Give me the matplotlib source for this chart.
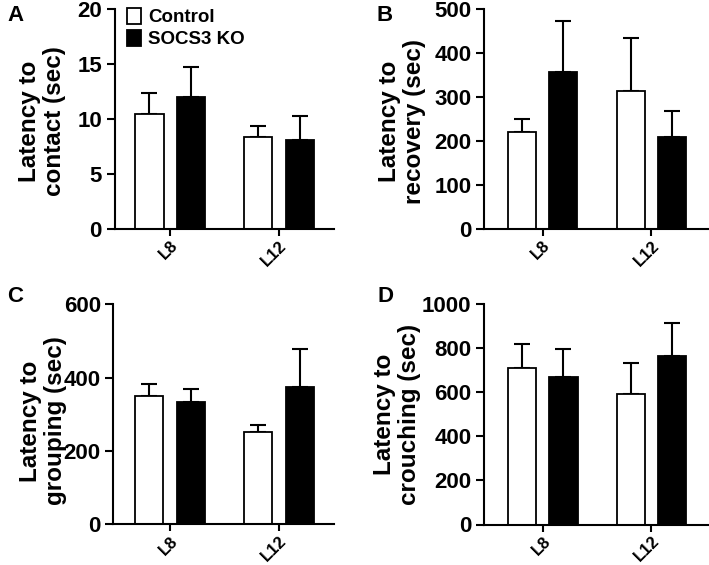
import matplotlib.pyplot as plt
from matplotlib.patches import Patch
import numpy as np

plt.rcParams['font.family'] = ['Liberation Sans', 'DejaVu Sans']
plt.rcParams['font.weight'] = 'bold'

groups = ['L8', 'L12']
series = ['Control', 'SOCS3 KO']

# panel A - contact
contact_ctrl = [10.45, 8.33]
contact_ctrl_sem = [1.95, 1.07]
contact_ko = [12.03, 8.09]
contact_ko_sem = [2.73, 2.15]

# panel B - recovery
recovery_ctrl = [221, 315]
recovery_ctrl_sem = [29, 120]
recovery_ko = [358, 210]
recovery_ko_sem = [115, 58]

# panel C - grouping
grouping_ctrl = [349, 253]
grouping_ctrl_sem = [34, 19]
grouping_ko = [334, 375]
grouping_ko_sem = [34, 102]

# panel D - crouching
crouching_ctrl = [712, 594]
crouching_ctrl_sem = [107, 140]
crouching_ko = [668, 765]
crouching_ko_sem = [130, 147]

W, H = 709, 565
fig = plt.figure(figsize=(W / 100, H / 100), dpi=100)


def px_axes(left, right, top, bottom):
    return fig.add_axes([left / W, 1 - bottom / H, (right - left) / W, (bottom - top) / H])


def draw_panel(ax, ctrl, ctrl_sem, ko, ko_sem, ymax, step, ylabel, xlim, lab_x, lab_y):
    x = np.arange(len(groups))
    off, wid = 0.19, 0.26
    for vals, sem, color, sign in [(ctrl, ctrl_sem, 'white', -1), (ko, ko_sem, 'black', 1)]:
        xs = x + sign * off
        ax.errorbar(xs, vals, yerr=[np.zeros(len(vals)), sem], fmt='none', ecolor='black',
                    elinewidth=1.5, capsize=6, capthick=1.5, zorder=1)
        ax.bar(xs, vals, width=wid, color=color, edgecolor='black', linewidth=1.3, zorder=2)
    ax.set_xlim(*xlim)
    ax.set_ylim(0, ymax)
    ax.set_yticks(np.arange(0, ymax + 1, step))
    ax.set_xticks(x)
    ax.set_xticklabels(groups, rotation=45, ha='right', va='top', rotation_mode='anchor',
                       fontsize=12, fontweight='bold')
    for t in ax.get_yticklabels():
        t.set_fontsize(16)
        t.set_fontweight('bold')
    for s in ['top', 'right']:
        ax.spines[s].set_visible(False)
    for s in ['left', 'bottom']:
        ax.spines[s].set_linewidth(1.5)
    ax.tick_params(axis='y', length=6, width=1.5, pad=3)
    ax.tick_params(axis='x', length=5, width=1.5, pad=1.5)
    ax.set_ylabel(ylabel, fontsize=17.5, fontweight='bold', linespacing=1.1)
    ax.yaxis.set_label_coords(lab_x, lab_y)


axA = px_axes(114.5, 334, 9, 229)
draw_panel(axA, contact_ctrl, contact_ctrl_sem, contact_ko, contact_ko_sem, 20, 5,
           'Latency to\ncontact (sec)', (-0.51, 1.505), -0.22, 0.49)
axB = px_axes(484.3, 708, 9.3, 229)
draw_panel(axB, recovery_ctrl, recovery_ctrl_sem, recovery_ko, recovery_ko_sem, 500, 100,
           'Latency to\nrecovery (sec)', (-0.536, 1.52), -0.26, 0.49)
axC = px_axes(113.3, 334, 304.3, 524.3)
draw_panel(axC, grouping_ctrl, grouping_ctrl_sem, grouping_ko, grouping_ko_sem, 600, 200,
           'Latency to\ngrouping (sec)', (-0.52, 1.505), -0.21, 0.47)
axD = px_axes(484, 708, 304, 524.5)
draw_panel(axD, crouching_ctrl, crouching_ctrl_sem, crouching_ko, crouching_ko_sem, 1000, 200,
           'Latency to\ncrouching (sec)', (-0.54, 1.52), -0.28, 0.5)

handles = [Patch(facecolor='white', edgecolor='black', linewidth=1.3),
           Patch(facecolor='black', edgecolor='black', linewidth=1.3)]
axA.legend(handles, series, loc='upper left', bbox_to_anchor=(0.005, 1.055), frameon=False,
           handlelength=0.75, handleheight=0.9, handletextpad=0.4, labelspacing=0.2,
           borderpad=0.1, prop={'size': 13.5, 'weight': 'bold'})

for letter, lx, ly in [('A', 7, 5), ('B', 377, 5), ('C', 7, 286), ('D', 378, 286)]:
    fig.text(lx / W, 1 - ly / H, letter, fontsize=16, fontweight='bold', ha='left', va='top')

fig.savefig('out.png', dpi=100)
